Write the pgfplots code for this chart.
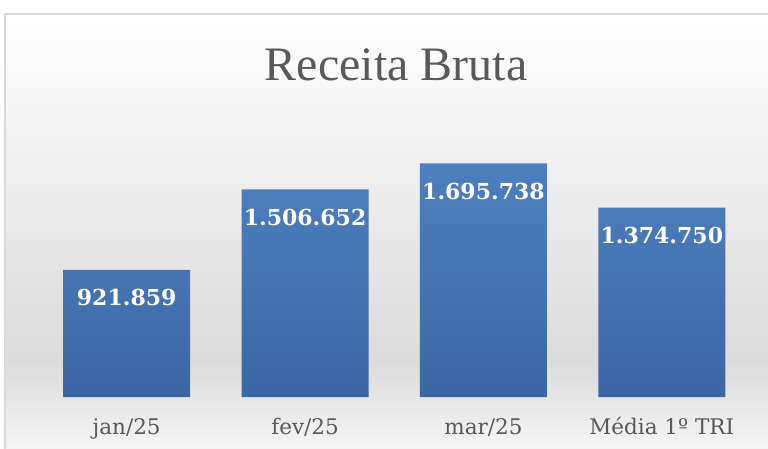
\documentclass[border=0pt]{standalone}
\usepackage{pgfplots}
\pgfplotsset{compat=1.18}
\usepackage{fontspec}
\setmainfont{DejaVu Serif}
\newfontfamily\titlefont{Liberation Serif}
\definecolor{bartop}{HTML}{4E80BE}
\definecolor{barbot}{HTML}{3B67A4}
\definecolor{txtgray}{HTML}{595959}
\definecolor{bggray}{HTML}{DBDBDB}
\begin{document}
\begin{tikzpicture}[x=1pt,y=1pt]
\clip (0,0) rectangle (768,448);
\path[use as bounding box] (0,0) rectangle (768,448);
\fill[white] (0,0) rectangle (768,448);
\shade[top color=white, bottom color=bggray] (5,88) rectangle (780,434);
\shade[top color=bggray, bottom color=white!97!black] (5,-10) rectangle (780,88);
\draw[color=white!85!black, line width=1.5pt] (5,-10) rectangle (790,434);
\node[font=\titlefont\fontsize{48}{56}\selectfont, text=txtgray, anchor=base, inner sep=0pt] at (396,367) {Receita Bruta};
\begin{axis}[
  at={(37.5pt,51pt)}, anchor=south west,
  scale only axis, width=713.5pt, height=275.6pt,
  xmin=-0.5, xmax=3.5, ymin=0, ymax=2000000,
  axis line style={draw=none}, ytick=\empty,
  xtick={0,1,2,3}, major tick length=0pt,
  xticklabels={jan/25, fev/25, mar/25, Média 1º TRI},
  xticklabel style={anchor=base, yshift=-37pt, text=txtgray, font=\fontsize{21.5}{24}\selectfont},
  point meta=explicit symbolic,
  nodes near coords,
  every node near coord/.append style={anchor=center, yshift=-28pt, text=white, font=\bfseries\fontsize{22}{26}\selectfont},
]
\addplot[ybar, bar width=127pt, draw=none, top color=bartop, bottom color=barbot]
coordinates {(0,921859) [921.859] (1,1506652) [1.506.652] (2,1695738) [1.695.738] (3,1374750) [1.374.750]};
\end{axis}
\end{tikzpicture}
\end{document}
